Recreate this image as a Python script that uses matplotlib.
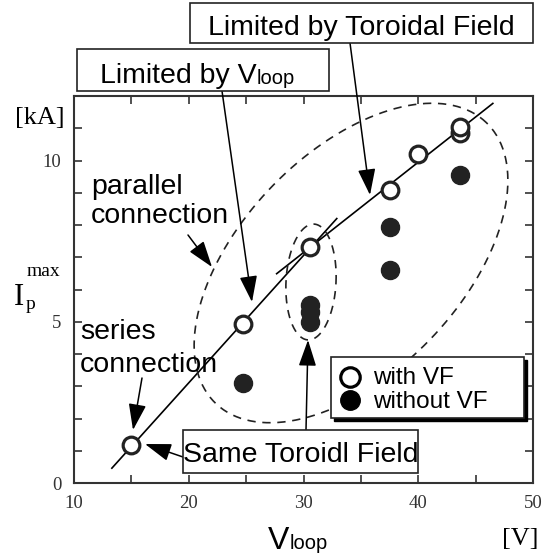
import numpy as np
import matplotlib
matplotlib.use("Agg")
import matplotlib.pyplot as plt
from matplotlib.patches import Rectangle
from matplotlib.lines import Line2D

# data
with_vf_v = [15.0, 24.7, 30.6, 37.5, 40.0, 43.6, 43.6]
with_vf_i = [1.18, 4.92, 7.32, 9.09, 10.19, 10.86, 11.03]
without_vf_v = [24.7, 30.6, 30.6, 30.6, 37.5, 37.5, 43.6]
without_vf_i = [3.1, 4.98, 5.29, 5.51, 6.59, 7.94, 9.56]
fit_lo_v = [13.3, 32.9]
fit_lo_i = [0.46, 8.2]
fit_hi_v = [27.66, 46.5]
fit_hi_i = [6.49, 11.77]
legend_labels = ["with VF", "without VF"]

W, H = 559, 557
SANS = "Liberation Sans"
SERIF = "Liberation Serif"
FS = 20.5


def fp(x, y):
    # pixel (from top-left) -> figure fraction
    return (x / W, 1 - y / H)


fig = plt.figure(figsize=(W / 100, H / 100), dpi=100)
ax = fig.add_axes([74 / W, 1 - 483 / H, (533 - 74) / W, (483 - 96) / H])
ax.set_xlim(10, 50)
ax.set_ylim(0, 12)

ax.set_xticks([10, 20, 30, 40, 50])
ax.set_xticks([15, 25, 35, 45], minor=True)
ax.set_yticks([0, 5, 10])
ax.set_yticks([1, 2, 3, 4, 6, 7, 8, 9, 11], minor=True)
ax.tick_params(which="both", direction="in", top=True, right=True,
               length=6, width=1.2, color="#333333")
ax.tick_params(axis="both", labelsize=13.5, pad=9)
for lab in ax.get_xticklabels() + ax.get_yticklabels():
    lab.set_fontfamily(SERIF)
    lab.set_color("#333333")
for sp in ax.spines.values():
    sp.set_linewidth(1.5)
    sp.set_color("#333333")

# fit lines
ax.plot(fit_lo_v, fit_lo_i, color="k", lw=1.2)
ax.plot(fit_hi_v, fit_hi_i, color="k", lw=1.2)

# points
ax.plot(without_vf_v, without_vf_i, "o", ls="none", ms=13, color="#222222")
ax.plot(with_vf_v, with_vf_i, "o", ls="none", ms=12, mfc="white",
        mec="#222222", mew=2.3)

# dashed ellipses (drawn in pixel space, converted to data)
sx = (533 - 74) / 40.0
sy = (483 - 96) / 12.0


def ellipse(cx, cy, a, b, ang):
    t = np.linspace(0, 2 * np.pi, 300)
    th = np.radians(ang)
    px = a * np.cos(th) * np.cos(t) - b * np.sin(th) * np.sin(t)
    py = a * np.sin(th) * np.cos(t) + b * np.cos(th) * np.sin(t)
    xd = 10 + (cx - 74 + px) / sx
    yd = (483 - cy + py) / sy
    ax.plot(xd, yd, color="#222222", lw=1.2, ls=(0, (5, 4)))


ellipse(351, 263, 195, 110, 46)
ellipse(311, 282, 25, 58, -3)


def box(x0, y0, x1, y1, shadow=False):
    if shadow:
        fig.add_artist(Rectangle(fp(x0 + 3, y1 + 3), (x1 - x0) / W,
                                 (y1 - y0) / H, transform=fig.transFigure,
                                 fc="k", ec="k", lw=1))
    fig.add_artist(Rectangle(fp(x0, y1), (x1 - x0) / W, (y1 - y0) / H,
                             transform=fig.transFigure, fc="white",
                             lw=1.2, ec="#222222"))


def arrow(x0, y0, x1, y1):
    ax.annotate("", xy=fp(x1, y1), xycoords="figure fraction",
                xytext=fp(x0, y0), textcoords="figure fraction",
                arrowprops=dict(arrowstyle="-|>,head_length=0.95,head_width=0.32",
                                mutation_scale=17, lw=1.1, color="k",
                                shrinkA=0, shrinkB=0),
                annotation_clip=False)


# legend drawn by hand so the box matches
box(331, 357, 524, 418, shadow=True)
fig.add_artist(Line2D([350 / W], [1 - 377 / H], transform=fig.transFigure,
                      marker="o", ms=14, mfc="white", mec="k", mew=2.3))
fig.add_artist(Line2D([350 / W], [1 - 400 / H], transform=fig.transFigure,
                      marker="o", ms=14, color="k"))
fig.text(*fp(373, 384), legend_labels[0], family=SANS, size=17.5,
         va="baseline")
fig.text(*fp(373, 408), legend_labels[1], family=SANS, size=17.5,
         va="baseline")

# boxed labels
box(190, 3, 533, 43)
fig.text(*fp(361, 35), "Limited by Toroidal Field", family=SANS, size=FS,
         ha="center", va="baseline")
box(77, 49, 329, 91)
t1 = fig.text(*fp(100, 83), "Limited by V", family=SANS, size=FS,
              ha="left", va="baseline")
box(183, 430, 418, 473)
fig.text(*fp(301, 462), "Same Toroidl Field", family=SANS, size=FS,
         ha="center", va="baseline")

fig.text(*fp(91, 194), "parallel", family=SANS, size=FS, va="baseline")
fig.text(*fp(91, 223), "connection", family=SANS, size=FS, va="baseline")
fig.text(*fp(80, 339), "series", family=SANS, size=FS, va="baseline")
fig.text(*fp(80, 372), "connection", family=SANS, size=FS, va="baseline")

# arrows
arrow(350, 43, 370, 195)
arrow(222, 91, 252, 302)
arrow(188, 235, 212, 267)
arrow(142, 378, 133, 430)
arrow(183, 457, 145, 444)
arrow(306, 430, 308, 340)

# axis labels
fig.text(*fp(40, 124), "[kA]", family=SERIF, size=19, ha="center",
         va="baseline")
fig.text(*fp(14, 305), "I", family=SERIF, size=22, va="baseline")
fig.text(*fp(27, 276), "max", family=SERIF, size=14, va="baseline")
fig.text(*fp(26, 309), "p", family=SERIF, size=14, va="baseline")
fig.text(*fp(520, 545), "[V]", family=SERIF, size=19, ha="center",
         va="baseline")
t2 = fig.text(*fp(268, 549), "V", family=SANS, size=23, va="baseline")

# put the small "loop" right after the rendered "V"
fig.canvas.draw()
r = fig.canvas.get_renderer()
e1 = t1.get_window_extent(r)
fig.text(e1.x1 / W, 1 - 84 / H, "loop", family=SANS, size=14.5, va="baseline")
e2 = t2.get_window_extent(r)
fig.text(e2.x1 / W, 1 - 549 / H, "loop", family=SANS, size=14.5,
         va="baseline")

fig.savefig("out.png", dpi=100)
